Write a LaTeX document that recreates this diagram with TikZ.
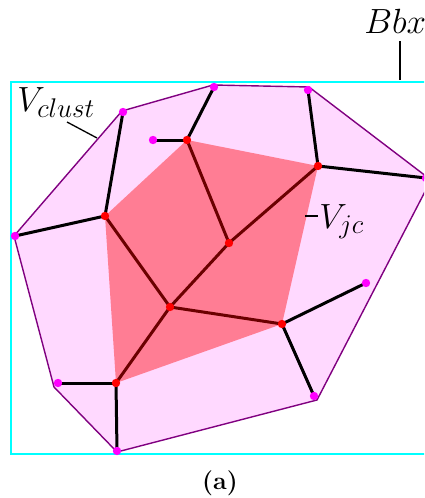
\RequirePackage{fix-cm}
\documentclass[tikz,border=0pt]{standalone}
\DeclareMathSizes{17.5}{17.5}{13.5}{10}
\definecolor{clustfill}{RGB}{255,217,255}
\definecolor{clustline}{RGB}{128,0,128}
\definecolor{bbxcol}{RGB}{0,255,255}
\definecolor{mdotcol}{RGB}{255,0,255}
\tikzset{
  edge/.style={line width=1.5pt, black},
  leader/.style={line width=0.65pt, black},
  rdot/.style={circle, fill=red, inner sep=0pt, minimum size=4.2pt},
  mdot/.style={circle, fill=mdotcol, inner sep=0pt, minimum size=4.2pt},
  lbl/.style={inner sep=0pt, anchor=base west, font=\fontsize{17.5}{21}\selectfont},
}
\begin{document}
\begin{tikzpicture}[x=0.5pt, y=-0.5pt]
\useasboundingbox (0,0) rectangle (424,498);
\begin{scope}
\clip (0,0) rectangle (424,498);
% vertices
\coordinate (m1) at (15,236);
\coordinate (m2) at (123,112);
\coordinate (m3) at (214,87);
\coordinate (m4) at (308,90);
\coordinate (m5) at (426,178);
\coordinate (m6) at (314,396);
\coordinate (m7) at (117,451);
\coordinate (m8) at (58,383);
\coordinate (m9) at (153,140);
\coordinate (m10) at (366,283);
\coordinate (r1) at (105,216);
\coordinate (r2) at (187,140);
\coordinate (r3) at (318,166);
\coordinate (r4) at (229,243);
\coordinate (r5) at (170,307);
\coordinate (r6) at (282,324);
\coordinate (r7) at (116,383);
% bounding box
\draw[bbxcol, line width=1pt] (11,82) rectangle (460,454);
% cluster hull
\filldraw[fill=clustfill, draw=clustline, line width=0.7pt]
  (14,236) -- (122,111) -- (213,85) -- (309,87) -- (431,180)
  -- (317,400) -- (117,452) -- (54,387) -- cycle;
% edges
\draw[edge] (m2) -- (r1);
\draw[edge] (m1) -- (r1);
\draw[edge] (r1) -- (r5);
\draw[edge] (m9) -- (r2);
\draw[edge] (m3) -- (r2);
\draw[edge] (r2) -- (r4);
\draw[edge] (m4) -- (r3);
\draw[edge] (r3) -- (m5);
\draw[edge] (r3) -- (r4);
\draw[edge] (r4) -- (r5);
\draw[edge] (r5) -- (r6);
\draw[edge] (r5) -- (r7);
\draw[edge] (r6) -- (m10);
\draw[edge] (r6) -- (m6);
\draw[edge] (r7) -- (m8);
\draw[edge] (r7) -- (m7);
% junction cluster region
\fill[red, opacity=0.42] (r1) -- (r2) -- (r3) -- (r6) -- (r7) -- cycle;
% dots
\foreach \n in {m1,m2,m3,m4,m5,m6,m7,m8,m9,m10}
  \node[mdot] (d\n) at (\n) {};
\foreach \n in {r1,r2,r3,r4,r5,r6,r7}
  \node[rdot] (d\n) at (\n) {};
% labels
\node[lbl] (lclust) at (17,111) {$V_{clust}$};
\coordinate (lclustend) at (97,138);
\draw[leader] (67,122) -- (lclustend);
\node[lbl] (lbbx) at (364,33) {$Bbx$};
\coordinate (bbxtop) at (400,41);
\coordinate (bbxbot) at (400,80);
\draw[leader] (bbxtop) -- (bbxbot);
\node[lbl] (ljc) at (319,228) {$V_{jc}$};
\coordinate (jcl) at (305,216);
\coordinate (jcr) at (318,216);
\draw[leader] (jcl) -- (jcr);
\node[inner sep=0pt, anchor=base, font=\fontsize{12.5}{15}\selectfont\bfseries] (cap) at (220,489) {(a)};
\end{scope}
\end{tikzpicture}
\end{document}
